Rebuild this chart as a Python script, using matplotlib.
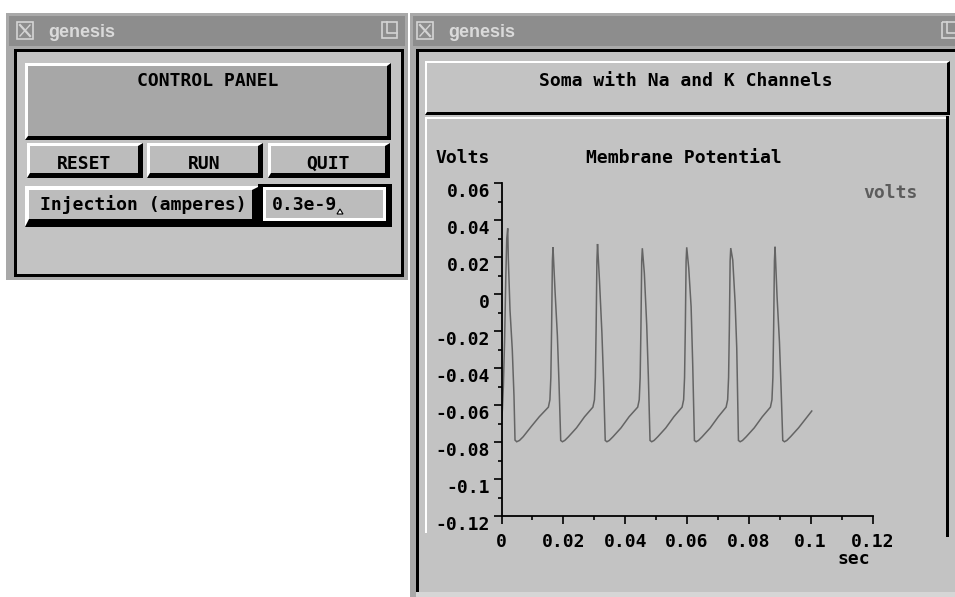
import matplotlib
matplotlib.use('Agg')
import matplotlib.pyplot as plt
from matplotlib.patches import Rectangle, Polygon
from matplotlib.ticker import FixedLocator, MultipleLocator

# membrane potential trace (sec, volts)
t_sec = [0.0000, 0.0003, 0.0006, 0.0010, 0.0014, 0.0017, 0.00201,
         0.0022, 0.00275, 0.00349, 0.00404, 0.00437, 0.00492,
         0.00581, 0.00701, 0.00961, 0.01221,
         0.01516, 0.01566, 0.01596, 0.01621, 0.01646, 0.01666,
         0.01731, 0.01808, 0.0186, 0.01915, 0.0197,
         0.02046, 0.02166, 0.02426, 0.02686,
         0.02956, 0.03006, 0.03036, 0.03061, 0.03086, 0.03106,
         0.03171, 0.03248, 0.0330, 0.03355, 0.0341,
         0.03486, 0.03606, 0.03866, 0.04126,
         0.04405, 0.04455, 0.04485, 0.0451, 0.04535, 0.04555,
         0.0462, 0.04697, 0.04749, 0.04804, 0.04859,
         0.04935, 0.05055, 0.05315, 0.05575,
         0.05841, 0.05891, 0.05921, 0.05946, 0.05971, 0.05991,
         0.06056, 0.06133, 0.06185, 0.0624, 0.06295,
         0.06371, 0.06491, 0.06751, 0.07011,
         0.07265, 0.07315, 0.07345, 0.0737, 0.07395, 0.07415,
         0.0748, 0.07557, 0.07609, 0.07664, 0.07719,
         0.07795, 0.07915, 0.08175, 0.08435,
         0.08698, 0.08748, 0.08778, 0.08803, 0.08828, 0.08848,
         0.08913, 0.0899, 0.09042, 0.09097, 0.09152,
         0.09228, 0.09348, 0.09608, 0.10035]
v_volts = [-0.070, -0.062, -0.050, -0.025, 0.010, 0.030, 0.0357,
           0.0196, -0.0085, -0.030, -0.055, -0.0788, -0.0797,
           -0.0790, -0.0770, -0.0715, -0.0662,
           -0.0610, -0.0570, -0.045, -0.018, 0.018, 0.0254,
           0.002, -0.0225, -0.048, -0.079, -0.0797,
           -0.0790, -0.0770, -0.0722, -0.0662,
           -0.0610, -0.0570, -0.045, -0.018, 0.018, 0.0272,
           0.0068, -0.021, -0.046, -0.079, -0.0797,
           -0.0790, -0.0770, -0.0722, -0.0662,
           -0.0610, -0.0570, -0.045, -0.018, 0.018, 0.0249,
           0.0115, -0.0166, -0.044, -0.079, -0.0797,
           -0.0790, -0.0770, -0.0722, -0.0662,
           -0.0610, -0.0570, -0.045, -0.018, 0.018, 0.0254,
           0.0142, -0.0067, -0.038, -0.079, -0.0797,
           -0.0790, -0.0770, -0.0722, -0.0662,
           -0.0610, -0.0570, -0.045, -0.018, 0.018, 0.0250,
           0.0185, -0.0047, -0.029, -0.079, -0.0797,
           -0.0790, -0.0770, -0.0722, -0.0662,
           -0.0610, -0.0570, -0.045, -0.018, 0.018, 0.0257,
           -0.0013, -0.0256, -0.050, -0.079, -0.0797,
           -0.0790, -0.0770, -0.0722, -0.0631]

x_ticks = [0, 0.02, 0.04, 0.06, 0.08, 0.1, 0.12]
x_tick_labels = ['0', '0.02', '0.04', '0.06', '0.08', '0.1', '0.12']
y_ticks = [-0.12, -0.1, -0.08, -0.06, -0.04, -0.02, 0, 0.02, 0.04, 0.06]
y_tick_labels = ['-0.12', '-0.1', '-0.08', '-0.06', '-0.04', '-0.02',
                 '0', '0.02', '0.04', '0.06']

FRAME = '#a9a9a9'
TITLE = '#8d8d8d'
PANEL = '#c3c3c3'
BUTTON = '#bcbcbc'
DARKBOX = '#a7a7a7'
TRACE = '#646464'
MONO = dict(family='DejaVu Sans Mono', weight='bold', size=13)

fig = plt.figure(figsize=(9.55, 5.97), dpi=100, facecolor='white')
bg = fig.add_axes([0, 0, 1, 1])
bg.set_xlim(0, 955)
bg.set_ylim(597, 0)
bg.axis('off')


def box(x0, y0, x1, y1, color):
    bg.add_patch(Rectangle((x0, y0), x1 - x0, y1 - y0, facecolor=color,
                           edgecolor='none', lw=0))


def bevel(x0, y0, x1, y1, face, wl=3, wd=4):
    box(x0, y0, x1, y1, 'black')
    bg.add_patch(Polygon([(x0, y0), (x1, y0), (x1 - wd, y0 + wl), (x0 + wl, y0 + wl),
                          (x0 + wl, y1 - wd), (x0, y1)], closed=True,
                         facecolor='white', edgecolor='none'))
    box(x0 + wl, y0 + wl, x1 - wd, y1 - wd, face)


def window(x0, y0, x1, y1, icon_x, right_icon_x):
    box(x0, y0, x1, y1, FRAME)
    box(x0 + 3, y0 + 3, x1 - 3, y0 + 33, TITLE)
    # X icon
    bg.add_patch(Rectangle((icon_x, 22), 16, 17, fill=False, edgecolor='#d4d4d4', lw=1.2))
    bg.plot([icon_x + 3, icon_x + 13], [25, 36], color='#d4d4d4', lw=1.6)
    bg.plot([icon_x + 13, icon_x + 3], [25, 36], color='#d4d4d4', lw=1.0)
    bg.text(icon_x + 31, 37, 'genesis', family='Liberation Sans', weight='bold',
            size=13, color='#dadada', va='baseline')
    # iconify box
    bg.add_patch(Rectangle((right_icon_x, 22), 15, 16, fill=False, edgecolor='#d4d4d4', lw=1.2))
    bg.plot([right_icon_x + 5, right_icon_x + 5, right_icon_x + 15],
            [22, 33, 33], color='#d4d4d4', lw=1.2)


# left window: control panel
window(6, 13, 408, 280, 17, 382)
box(14, 49, 404, 277, 'black')
box(17, 52, 401, 274, PANEL)
bevel(25, 63, 391, 140, DARKBOX, wl=3, wd=4)
bg.text(208, 86, 'CONTROL PANEL', ha='center', va='baseline', **MONO)
for x0, x1, name in [(27, 143, 'RESET'), (147, 263, 'RUN'), (268, 390, 'QUIT')]:
    bevel(x0, 143, x1, 178, BUTTON, wl=3, wd=5)
    bg.text((x0 + x1) / 2 - 1, 169, name, ha='center', va='baseline', **MONO)
bevel(25, 186, 260, 227, BUTTON, wl=4, wd=8)
bg.text(143, 209.5, 'Injection (amperes)', ha='center', va='baseline', **MONO)
box(258, 184, 392, 227, 'black')
box(263, 187, 386, 221, 'white')
box(266, 190, 383, 218, BUTTON)
bg.text(272, 209.5, '0.3e-9', ha='left', va='baseline', **MONO)
bg.add_patch(Polygon([(337, 214), (343, 214), (340, 209)], closed=True,
                     facecolor='white', edgecolor='black', lw=0.8))

# right window: graph
window(410, 13, 962, 604, 417, 942)
box(416, 49, 955, 597, 'black')
box(419, 52, 955, 597, PANEL)
bevel(425, 61, 950, 115, PANEL, wl=2, wd=3)
bg.text(686, 86, 'Soma with Na and K Channels', ha='center', va='baseline', **MONO)
box(425, 117, 946, 119, 'white')
box(425, 117, 427, 533, 'white')
box(946, 116, 949, 537, 'black')
box(416, 592, 955, 597, '#d6d6d6')

bg.text(435, 163, 'Volts', ha='left', va='baseline', **MONO)
bg.text(684, 163, 'Membrane Potential', ha='center', va='baseline', **MONO)
bg.text(863, 198, 'volts', ha='left', va='baseline', color='#5c5c5c', **MONO)
bg.text(854, 564, 'sec', ha='center', va='baseline', **MONO)

# plot area: x 0..0.12 -> px 501.5..872.5, y -0.12..0.06 -> px 516.3..183.3
ax = fig.add_axes([501.5 / 955, 1 - 516.3 / 597, 371 / 955, 333 / 597])
ax.set_facecolor('none')
ax.plot(t_sec, v_volts, color=TRACE, lw=1.1, solid_joinstyle='miter')
ax.set_xlim(0, 0.12)
ax.set_ylim(-0.12, 0.06)
for side in ['top', 'right']:
    ax.spines[side].set_visible(False)
for side in ['left', 'bottom']:
    ax.spines[side].set_color('black')
    ax.spines[side].set_linewidth(1.3)
ax.xaxis.set_major_locator(FixedLocator(x_ticks))
ax.yaxis.set_major_locator(FixedLocator(y_ticks))
ax.xaxis.set_minor_locator(MultipleLocator(0.01))
ax.yaxis.set_minor_locator(MultipleLocator(0.01))
ax.set_xticklabels(x_tick_labels, fontdict=MONO)
ax.set_yticklabels(y_tick_labels, fontdict=MONO)
ax.tick_params(axis='both', which='major', direction='out', length=6, width=1.2, color='black')
ax.tick_params(axis='both', which='minor', direction='out', length=3, width=1.2, color='black')
ax.tick_params(axis='x', which='major', pad=6)
ax.tick_params(axis='y', which='major', pad=2.2)
for lbl in ax.get_yticklabels():
    lbl.set_verticalalignment('top')

fig.savefig('out.png', dpi=100, facecolor='white')
